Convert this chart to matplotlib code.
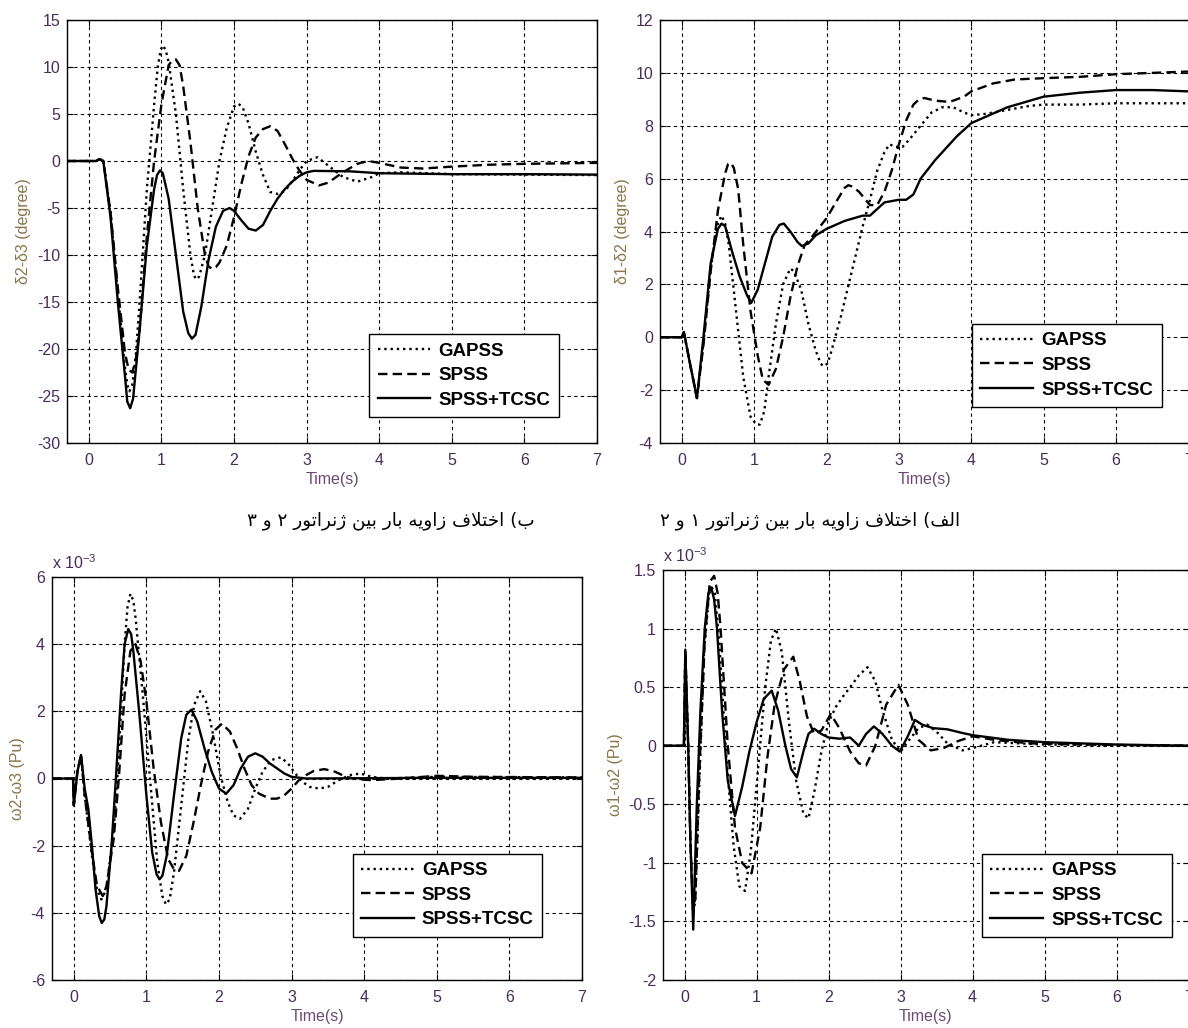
# پاسخ دینامیکی: اختلاف زاویه و سرعت ژنراتورها
import numpy as np
import matplotlib
matplotlib.use("Agg")
import matplotlib.pyplot as plt

plt.rcParams['font.family'] = ['Liberation Sans', 'DejaVu Sans']
plt.rcParams['axes.unicode_minus'] = False

LABELS = ['GAPSS', 'SPSS', 'SPSS+TCSC']

# (الف) delta1 - delta2 (degree)
t_d12_ga = [-0.3, 0.0, 0.03, 0.1, 0.21, 0.3, 0.4, 0.5, 0.55, 0.6, 0.65, 0.75, 0.85, 0.95, 1.03, 1.08, 1.14,
            1.2, 1.3, 1.4, 1.5, 1.55, 1.65, 1.75, 1.85, 1.92, 1.96, 2.01, 2.05, 2.2, 2.35, 2.5, 2.6, 2.7,
            2.8, 2.87, 2.95, 3.05, 3.15, 3.3, 3.45, 3.6, 3.75, 3.9, 4.0, 4.2, 4.5, 4.8, 5.0, 5.5, 6.0, 7.0]
v_d12_ga = [0.0, 0.0, 0.2, -0.8, -2.3, -0.2, 2.6, 4.3, 4.6, 4.3, 3.5, 1.0, -1.5, -3.0, -3.3, -3.3, -2.8,
            -1.5, 0.5, 2.0, 2.6, 2.5, 1.8, 0.5, -0.5, -1.0, -1.1, -1.0, -0.7, 0.8, 2.5, 4.2, 5.2, 6.3,
            7.0, 7.3, 7.2, 7.2, 7.5, 8.0, 8.5, 8.7, 8.7, 8.5, 8.4, 8.45, 8.6, 8.75, 8.8, 8.8, 8.85, 8.85]
t_d12_sp = [-0.3, 0.0, 0.03, 0.1, 0.21, 0.3, 0.4, 0.5, 0.6, 0.64, 0.68, 0.72, 0.78, 0.85, 0.95, 1.05, 1.12,
            1.2, 1.3, 1.4, 1.5, 1.6, 1.7, 1.8, 2.0, 2.15, 2.25, 2.3, 2.36, 2.45, 2.6, 2.7, 2.8, 2.9, 3.0,
            3.1, 3.2, 3.28, 3.35, 3.5, 3.7, 3.9, 4.0, 4.3, 4.6, 5.0, 5.5, 6.0, 6.5, 7.0]
v_d12_sp = [0.0, 0.0, 0.2, -0.8, -2.3, -0.3, 2.5, 4.8, 6.2, 6.55, 6.6, 6.4, 5.6, 3.5, 1.0, -0.7, -1.6,
            -1.8, -1.2, 0.0, 1.5, 2.7, 3.5, 3.8, 4.5, 5.2, 5.65, 5.75, 5.7, 5.5, 5.0, 5.0, 5.5, 6.3, 7.3,
            8.2, 8.8, 9.0, 9.05, 8.95, 8.9, 9.1, 9.3, 9.6, 9.75, 9.8, 9.85, 9.95, 10.0, 10.05]
t_d12_tc = [-0.3, 0.0, 0.03, 0.1, 0.21, 0.3, 0.4, 0.5, 0.55, 0.6, 0.7, 0.8, 0.9, 0.96, 1.05, 1.15, 1.25,
            1.35, 1.41, 1.5, 1.6, 1.66, 1.75, 1.85, 2.0, 2.25, 2.5, 2.6, 2.8, 3.0, 3.1, 3.2, 3.3, 3.5,
            3.8, 4.0, 4.5, 5.0, 5.5, 6.0, 6.5, 7.0]
v_d12_tc = [0.0, 0.0, 0.2, -0.8, -2.3, 0.0, 2.8, 4.1, 4.3, 4.2, 3.2, 2.3, 1.6, 1.3, 1.8, 2.8, 3.8,
            4.25, 4.3, 4.0, 3.6, 3.45, 3.55, 3.85, 4.1, 4.4, 4.6, 4.6, 5.1, 5.2, 5.2, 5.4, 6.0, 6.7,
            7.6, 8.1, 8.7, 9.1, 9.25, 9.35, 9.35, 9.3]

# (ب) delta2 - delta3 (degree)
t_d23_ga = [-0.3, 0.1, 0.15, 0.2, 0.3, 0.4, 0.5, 0.53, 0.56, 0.6, 0.65, 0.7, 0.8, 0.9, 0.95, 0.99, 1.02,
            1.06, 1.1, 1.2, 1.3, 1.4, 1.45, 1.48, 1.52, 1.6, 1.7, 1.8, 1.9, 2.0, 2.06, 2.12, 2.2, 2.3, 2.4,
            2.5, 2.6, 2.7, 2.8, 2.9, 3.0, 3.15, 3.3, 3.5, 3.7, 3.9, 4.0, 4.3, 5.0, 6.0, 7.0]
v_d23_ga = [0.0, 0.0, 0.2, 0.0, -5.5, -14.0, -22.0, -23.8, -24.5, -23.8, -20.5, -15.0, -3.0, 6.0, 10.0, 11.8, 12.3,
            11.8, 10.5, 5.0, -3.0, -10.0, -12.2, -12.6, -12.3, -10.0, -5.0, 0.0, 3.5, 5.8, 6.1, 5.7, 4.0, 1.0, -1.5,
            -3.3, -3.5, -3.2, -2.2, -1.0, 0.0, 0.4, -0.5, -1.7, -2.2, -1.7, -1.3, -1.2, -1.4, -1.45, -1.5]
t_d23_sp = [-0.3, 0.1, 0.15, 0.2, 0.3, 0.4, 0.5, 0.55, 0.6, 0.65, 0.7, 0.8, 0.9, 1.0, 1.1, 1.15, 1.2, 1.25,
            1.3, 1.4, 1.5, 1.6, 1.65, 1.7, 1.75, 1.8, 1.9, 2.0, 2.1, 2.2, 2.3, 2.4, 2.5, 2.6, 2.7, 2.8, 2.9,
            3.0, 3.17, 3.3, 3.5, 3.7, 3.85, 4.0, 4.3, 4.6, 5.0, 5.5, 6.0, 7.0]
v_d23_sp = [0.0, 0.0, 0.2, 0.0, -5.5, -13.5, -20.5, -22.2, -22.5, -21.0, -18.0, -8.0, 0.0, 6.0, 10.2, 10.7, 10.8, 10.2,
            8.0, 2.0, -5.0, -10.0, -11.2, -11.5, -11.3, -10.8, -9.0, -6.0, -2.5, 0.5, 2.5, 3.4, 3.7, 3.2, 1.8, 0.3, -1.0,
            -2.0, -2.6, -2.3, -1.2, -0.3, 0.0, -0.2, -0.7, -0.8, -0.6, -0.4, -0.3, -0.2]
t_d23_tc = [-0.3, 0.1, 0.15, 0.2, 0.3, 0.4, 0.5, 0.53, 0.57, 0.61, 0.7, 0.8, 0.9, 0.94, 0.98, 1.02, 1.1, 1.2,
            1.3, 1.37, 1.42, 1.47, 1.55, 1.65, 1.75, 1.85, 1.94, 2.0, 2.1, 2.2, 2.3, 2.4, 2.5, 2.6, 2.7,
            2.8, 2.9, 3.0, 3.1, 3.6, 4.0, 5.0, 6.0, 7.0]
v_d23_tc = [0.0, 0.0, 0.2, 0.0, -6.0, -15.0, -23.0, -25.6, -26.3, -25.3, -18.0, -9.0, -3.0, -1.5, -1.0, -1.3, -4.0, -10.0,
            -16.0, -18.3, -18.9, -18.5, -15.5, -10.5, -7.0, -5.3, -5.0, -5.3, -6.3, -7.2, -7.4, -6.8, -5.3, -4.0, -3.0,
            -2.2, -1.6, -1.2, -1.05, -1.1, -1.3, -1.4, -1.4, -1.45]

# (الف) omega1 - omega2 (Pu, x1e-3)
t_w12_ga = [-0.3, -0.01, 0.01, 0.05, 0.08, 0.12, 0.15, 0.2, 0.27, 0.34, 0.38, 0.42, 0.48, 0.58, 0.68, 0.76,
            0.84, 0.92, 1.02, 1.12, 1.2, 1.27, 1.35, 1.45, 1.55, 1.65, 1.72, 1.8, 1.9, 2.0, 2.1, 2.2, 2.3,
            2.42, 2.54, 2.65, 2.75, 2.88, 3.0, 3.12, 3.25, 3.37, 3.5, 3.65, 3.86, 4.0, 4.3, 5.0, 7.0]
v_w12_ga = [0.0, 0.0, 0.8, 0.0, -0.8, -1.45, -1.3, -0.4, 0.8, 1.3, 1.35, 1.3, 0.9, -0.1, -0.85, -1.2,
            -1.24, -0.9, -0.2, 0.5, 0.9, 1.0, 0.8, 0.2, -0.3, -0.58, -0.62, -0.4, -0.05, 0.2, 0.33, 0.42, 0.5,
            0.6, 0.67, 0.55, 0.3, 0.05, -0.05, 0.05, 0.15, 0.18, 0.12, 0.02, -0.04, -0.02, 0.03, 0.01, 0.0]
t_w12_sp = [-0.3, -0.01, 0.01, 0.05, 0.08, 0.12, 0.15, 0.2, 0.28, 0.35, 0.41, 0.46, 0.5, 0.6, 0.7, 0.8,
            0.93, 1.05, 1.15, 1.25, 1.38, 1.51, 1.6, 1.7, 1.8, 1.9, 2.03, 2.15, 2.3, 2.42, 2.52, 2.65, 2.8,
            2.97, 3.1, 3.25, 3.42, 3.6, 3.8, 4.0, 4.3, 4.8, 5.5, 7.0]
v_w12_sp = [0.0, 0.0, 0.8, 0.0, -0.8, -1.4, -1.3, -0.3, 0.9, 1.4, 1.45, 1.3, 1.0, 0.0, -0.7, -1.0,
            -1.09, -0.7, -0.1, 0.35, 0.65, 0.76, 0.55, 0.25, 0.1, 0.13, 0.27, 0.15, -0.05, -0.15, -0.17, 0.0, 0.35,
            0.52, 0.35, 0.05, -0.04, -0.02, 0.04, 0.08, 0.05, 0.02, 0.01, 0.0]
t_w12_tc = [-0.3, -0.01, 0.01, 0.05, 0.08, 0.12, 0.17, 0.22, 0.28, 0.33, 0.37, 0.41, 0.45, 0.52, 0.6, 0.7,
            0.8, 0.9, 1.0, 1.1, 1.21, 1.3, 1.4, 1.48, 1.56, 1.65, 1.72, 1.8, 1.9, 2.0, 2.15, 2.3, 2.42, 2.52,
            2.63, 2.75, 2.88, 2.99, 3.1, 3.2, 3.3, 3.45, 3.65, 3.85, 4.0, 4.5, 5.0, 6.0, 7.0]
v_w12_tc = [0.0, 0.0, 0.82, 0.0, -0.8, -1.57, -0.5, 0.3, 1.0, 1.3, 1.35, 1.25, 1.0, 0.3, -0.3, -0.6,
            -0.35, -0.05, 0.2, 0.4, 0.47, 0.3, 0.0, -0.2, -0.27, -0.05, 0.1, 0.145, 0.1, 0.07, 0.06, 0.07, 0.0, 0.1,
            0.165, 0.1, 0.0, -0.05, 0.08, 0.22, 0.18, 0.15, 0.14, 0.11, 0.09, 0.05, 0.03, 0.01, 0.0]

# (ب) omega2 - omega3 (Pu, x1e-3)
t_w23_ga = [-0.3, -0.01, 0.0, 0.05, 0.1, 0.15, 0.25, 0.32, 0.38, 0.45, 0.55, 0.6, 0.65, 0.7, 0.74, 0.78,
            0.82, 0.85, 0.95, 1.05, 1.15, 1.22, 1.27, 1.32, 1.38, 1.48, 1.58, 1.66, 1.74, 1.82, 1.92, 2.02,
            2.12, 2.2, 2.29, 2.4, 2.5, 2.6, 2.72, 2.85, 2.95, 3.05, 3.15, 3.25, 3.38, 3.5, 3.65, 3.8, 3.95,
            4.1, 4.3, 5.0, 7.0]
v_w23_ga = [0.0, 0.0, -0.8, 0.2, 0.7, -0.5, -2.3, -3.3, -3.6, -3.3, -1.5, 0.0, 2.0, 4.0, 5.1, 5.5,
            5.3, 4.8, 2.5, 0.0, -2.5, -3.5, -3.75, -3.6, -2.8, -0.8, 1.2, 2.2, 2.6, 2.3, 1.3, 0.1,
            -0.7, -1.1, -1.2, -0.9, -0.3, 0.2, 0.55, 0.63, 0.45, 0.15, -0.1, -0.25, -0.3, -0.25, -0.05, 0.1, 0.15,
            0.05, 0.0, 0.05, 0.03]
t_w23_sp = [-0.3, -0.01, 0.0, 0.05, 0.1, 0.15, 0.25, 0.32, 0.4, 0.45, 0.55, 0.62, 0.7, 0.78, 0.85, 0.92,
            1.0, 1.1, 1.2, 1.3, 1.38, 1.45, 1.55, 1.65, 1.75, 1.85, 1.95, 2.04, 2.15, 2.25, 2.35, 2.45,
            2.55, 2.7, 2.8, 2.9, 3.0, 3.1, 3.2, 3.3, 3.45, 3.6, 3.75, 3.9, 4.1, 4.5, 5.0, 5.5, 7.0]
v_w23_sp = [0.0, 0.0, -0.8, 0.2, 0.7, -0.5, -2.2, -3.2, -3.5, -3.2, -1.8, 0.0, 2.5, 3.8, 4.0, 3.5,
            2.3, 0.3, -1.3, -2.4, -2.7, -2.75, -2.3, -1.3, -0.2, 0.8, 1.45, 1.63, 1.4, 0.9, 0.3, -0.2,
            -0.45, -0.6, -0.6, -0.5, -0.3, -0.05, 0.1, 0.22, 0.28, 0.2, 0.05, -0.02, -0.05, 0.0, 0.08, 0.05, 0.03]
t_w23_tc = [-0.3, -0.01, 0.0, 0.05, 0.1, 0.15, 0.2, 0.25, 0.3, 0.35, 0.385, 0.42, 0.45, 0.52, 0.58, 0.65,
            0.7, 0.75, 0.79, 0.82, 0.9, 1.0, 1.08, 1.14, 1.18, 1.22, 1.28, 1.38, 1.48, 1.55, 1.62, 1.7, 1.8,
            1.9, 2.0, 2.1, 2.2, 2.3, 2.4, 2.5, 2.6, 2.7, 2.8, 2.9, 3.0, 3.2, 5.0, 7.0]
v_w23_tc = [0.0, 0.0, -0.8, 0.2, 0.7, -0.3, -0.9, -2.0, -3.3, -4.1, -4.3, -4.2, -3.8, -2.0, 0.0, 2.5,
            4.0, 4.45, 4.3, 3.8, 2.0, -0.5, -2.2, -2.85, -3.0, -2.9, -2.3, -0.5, 1.2, 1.9, 2.05, 1.7, 0.9,
            0.2, -0.3, -0.45, -0.2, 0.3, 0.65, 0.75, 0.65, 0.45, 0.3, 0.15, 0.05, 0.0, 0.02, 0.02]

# captions, visual order (presentation forms): "الف) اختلاف زاویه بار بین ژنراتور ۱ و ۲"
W_ALEF = "\uFED2\uFEDF\uFE8D"
W_BE = "\uFE8F"
W_IKHT = "\uFED1\uFEFC\uFE98\uFEA7\uFE8D"
W_ZAVIE = "\uFEEA\uFEF3\uFEED\uFE8D\uFEAF"
W_BAR = "\uFEAD\uFE8E\uFE91"
W_BEIN = "\uFEE6\uFEF4\uFE91"
W_GEN = "\uFEAD\uFEEE\uFE97\uFE8D\uFEAE\uFEE7\u0698"
W_VA = "\uFEED"
CAP_A = " ".join(["\u06F2", W_VA, "\u06F1", W_GEN, W_BEIN, W_BAR, W_ZAVIE, W_IKHT, "(" + W_ALEF])
CAP_B = " ".join(["\u06F3", W_VA, "\u06F2", W_GEN, W_BEIN, W_BAR, W_ZAVIE, W_IKHT, "(" + W_BE])

TICK_C = '#4a2c5a'
YLAB_C = '#8a7548'
XLAB_C = '#6a4a72'

fig = plt.figure(figsize=(11.88, 10.28), dpi=100)
W, H = 1188.0, 1028.0


def make_ax(x0, x1, ytop, ybot):
    return fig.add_axes([x0 / W, 1 - ybot / H, (x1 - x0) / W, (ybot - ytop) / H])


def style_ax(ax, yticks, ylab, leg_anchor):
    ax.set_xlim(-0.3, 7)
    ax.set_xticks(range(0, 8))
    ax.set_ylim(yticks[0], yticks[-1])
    ax.set_yticks(yticks)
    ax.grid(True, color='black', linestyle=(0, (3, 3)), linewidth=0.8)
    ax.tick_params(direction='in', length=4, labelsize=11.5, colors='black', labelcolor=TICK_C,
                   top=True, right=True)
    ax.tick_params(axis='x', pad=7)
    ax.tick_params(axis='y', pad=5)
    for s in ax.spines.values():
        s.set_linewidth(1.0)
    ax.set_xlabel('Time(s)', color=XLAB_C, fontsize=11.5, labelpad=3)
    ax.set_ylabel(ylab, color=YLAB_C, fontsize=11.5, labelpad=4)
    leg = ax.legend(loc='lower right', bbox_to_anchor=leg_anchor, fancybox=False, framealpha=1,
                    edgecolor='black', handlelength=2.8, handletextpad=0.45, borderpad=0.45,
                    labelspacing=0.4, borderaxespad=0.0, prop={'size': 13.5, 'weight': 'bold'})
    leg.get_frame().set_linewidth(1.0)


def draw(ax, series):
    styles = [':', (0, (4, 2.2)), '-']
    for (t, v), ls, lab in zip(series, styles, LABELS):
        ax.plot(t, v, color='black', linestyle=ls, linewidth=1.7, label=lab)


ax1 = make_ax(67, 597, 20, 443)
draw(ax1, [(t_d23_ga, v_d23_ga), (t_d23_sp, v_d23_sp), (t_d23_tc, v_d23_tc)])
style_ax(ax1, list(range(-30, 16, 5)), '\u03b42-\u03b43 (degree)', (0.928, 0.061))

ax2 = make_ax(660, 1188.5, 20, 443)
draw(ax2, [(t_d12_ga, v_d12_ga), (t_d12_sp, v_d12_sp), (t_d12_tc, v_d12_tc)])
style_ax(ax2, list(range(-4, 13, 2)), '\u03b41-\u03b42 (degree)', (0.949, 0.085))

ax3 = make_ax(52, 582, 577, 980)
draw(ax3, [(t_w23_ga, v_w23_ga), (t_w23_sp, v_w23_sp), (t_w23_tc, v_w23_tc)])
style_ax(ax3, list(range(-6, 7, 2)), '\u03c92-\u03c93 (Pu)', (0.925, 0.107))
ax3.text(0.0, 1.012, 'x 10$^{\\mathregular{-3}}$', transform=ax3.transAxes, fontsize=11.5,
         color=TICK_C, ha='left', va='bottom')

ax4 = make_ax(663, 1188.5, 570, 980)
draw(ax4, [(t_w12_ga, v_w12_ga), (t_w12_sp, v_w12_sp), (t_w12_tc, v_w12_tc)])
style_ax(ax4, [-2, -1.5, -1, -0.5, 0, 0.5, 1, 1.5], '\u03c91-\u03c92 (Pu)', (0.968, 0.105))
ax4.yaxis.set_major_formatter(matplotlib.ticker.FuncFormatter(lambda v, p: ('%g' % v)))
ax4.text(0.0, 1.012, 'x 10$^{\\mathregular{-3}}$', transform=ax4.transAxes, fontsize=11.5,
         color=TICK_C, ha='left', va='bottom')

fig.text(535 / W, 1 - 521 / H, CAP_B, family=['DejaVu Sans'], fontsize=13.2, ha='right', va='center')
fig.text(960 / W, 1 - 521 / H, CAP_A, family=['DejaVu Sans'], fontsize=13.2, ha='right', va='center')

fig.savefig('out.png', dpi=100)
